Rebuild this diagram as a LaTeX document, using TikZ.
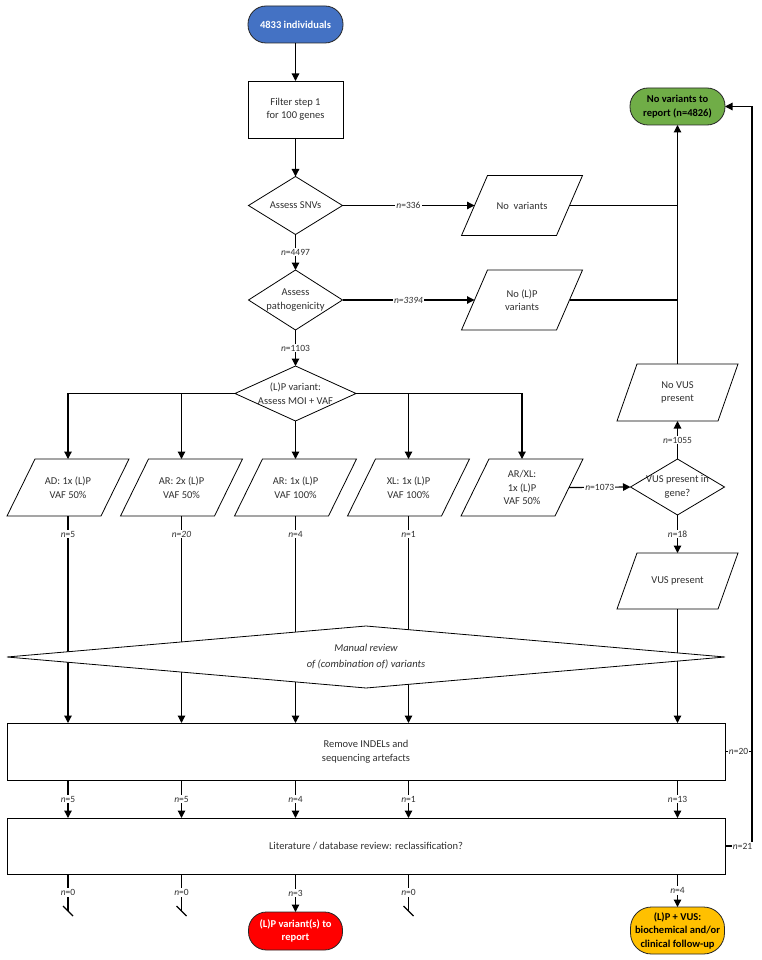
\documentclass[tikz,border=0pt]{standalone}
\usepackage{fontspec}
\setmainfont{Carlito}
\usetikzlibrary{arrows.meta,calc}
\definecolor{txt}{HTML}{303030}
\definecolor{cblue}{HTML}{4472C4}
\definecolor{cgreen}{HTML}{70AD47}
\definecolor{cred}{HTML}{FF0000}
\definecolor{cyellow}{HTML}{FFC000}
\newcommand\parashape[2]{\draw[shp] ($(#1.south west)+(-#2,0)$) -- ($(#1.north west)+(#2,0)$) -- ($(#1.north east)+(#2,0)$) -- ($(#1.south east)+(-#2,0)$) -- cycle;}
\newcommand\diamshape[1]{\draw[shp] (#1.west) -- (#1.north) -- (#1.east) -- (#1.south) -- cycle;}
\begin{document}
\begin{tikzpicture}[x=1pt,y=-1pt,
 base/.style={font=\fontsize{10.5}{13.5}\selectfont, text=txt, align=center, inner sep=0pt, outer sep=0pt},
 rectbox/.style={base, draw=black, line width=0.8pt, fill=white},
 ghost/.style={base},
 term/.style={base, draw=black!85, line width=0.8pt, font=\fontsize{10.5}{13.5}\selectfont\bfseries, minimum width=95pt},
 shp/.style={draw=black, line width=0.8pt},
 conn/.style={draw=black, line width=1.2pt},
 arr/.style={conn, -{Triangle[length=7.5pt,width=7.5pt]}},
 lbl/.style={font=\fontsize{9.5}{10}\selectfont, text=txt, fill=white, inner sep=1pt},
]
\useasboundingbox (0,0) rectangle (761,960);

% terminals and boxes
\node[term, fill=cblue, text=white, minimum height=37pt, rounded corners=18pt] (start) at (295.5,24.5) {4833 individuals};
\node[rectbox, minimum width=95pt, minimum height=57pt] (filter) at (295.5,109.5) {Filter step 1\\for 100 genes};
\node[term, fill=cgreen, text=black, minimum height=37pt, rounded corners=18pt] (green) at (677.5,106.5) {No variants to\\report (n=4826)};

% diamonds
\node[ghost, minimum width=94pt, minimum height=58pt] (snv) at (295.5,205.5) {Assess SNVs};
\diamshape{snv}
\node[ghost, minimum width=94pt, minimum height=60pt] (path) at (295.5,300) {Assess\\pathogenicity};
\diamshape{path}
\node[ghost, minimum width=121pt, minimum height=55pt] (lp) at (295.5,393.5) {(L)P variant:\\Assess MOI + VAF};
\diamshape{lp}
\node[ghost, minimum width=94pt, minimum height=56pt] (vus) at (677.5,487) {VUS present in\\gene?};
\diamshape{vus}

% parallelograms
\node[ghost, minimum width=95pt, minimum height=60pt] (novar) at (522,205.5) {No~~variants};
\parashape{novar}{13}
\node[ghost, minimum width=95pt, minimum height=60pt] (nolp) at (522,300) {No (L)P\\variants};
\parashape{nolp}{13}
\node[ghost, minimum width=94pt, minimum height=57pt] (ad) at (68,487.5) {AD: 1x (L)P\\VAF 50\%};
\parashape{ad}{14}
\node[ghost, minimum width=94pt, minimum height=57pt] (ar2) at (181.5,487.5) {AR: 2x (L)P\\VAF 50\%};
\parashape{ar2}{14}
\node[ghost, minimum width=94pt, minimum height=57pt] (ar1) at (295.5,487.5) {AR: 1x (L)P\\VAF 100\%};
\parashape{ar1}{14}
\node[ghost, minimum width=94pt, minimum height=57pt] (xl) at (408.5,487.5) {XL: 1x (L)P\\VAF 100\%};
\parashape{xl}{14}
\node[ghost, minimum width=94pt, minimum height=57pt] (arxl) at (522,487.5) {AR/XL:\\1x (L)P\\VAF 50\%};
\parashape{arxl}{14}
\node[ghost, minimum width=101pt, minimum height=57pt] (novus) at (677.5,392.5) {No VUS\\present};
\parashape{novus}{10}
\node[ghost, minimum width=101pt, minimum height=56pt] (vuspres) at (677.5,581) {VUS present};
\parashape{vuspres}{10}

% lower boxes
\node[rectbox, minimum width=718pt, minimum height=57pt] (remove) at (366,751.5) {Remove INDELs and\\sequencing artefacts};
\node[rectbox, minimum width=718pt, minimum height=56pt] (lit) at (366,846) {Literature / database review: reclassification?};
\node[term, fill=cred, text=white, minimum width=94pt, minimum height=38pt, rounded corners=18pt] (red) at (295.5,931) {(L)P variant(s) to\\report};
\node[term, fill=cyellow, text=black, minimum width=94pt, minimum height=47pt, rounded corners=21pt] (yellow) at (677.5,930.5) {(L)P + VUS:\\biochemical and/or\\clinical follow-up};

% main column connectors
\draw[arr] (start.south) -- (filter.north);
\draw[arr] (filter.south) -- (snv.north);
\draw[arr] (snv.east) -- node[lbl]{\textit{n}=336} (novar.west);
\draw[arr] (snv.south) -- node[lbl]{\textit{n}=4497} (path.north);
\draw[arr] (path.east) -- node[lbl]{\textit{n=3394}} (nolp.west);
\draw[arr] (path.south) -- node[lbl]{\textit{n}=1103} (lp.north);
\draw[arr] (lp.west) -| (ad.north);
\draw[arr] (lp.west) -| (ar2.north);
\draw[arr] (lp.south) -- (ar1.north);
\draw[arr] (lp.east) -| (xl.north);
\draw[arr] (lp.east) -| (arxl.north);
\draw[arr] (arxl.east) -- node[lbl]{\textit{n}=1073} (vus.west);
\draw[arr] (vus.north) -- node[lbl]{\textit{n}=1055} (novus.south);
\draw[arr] (vus.south) -- node[lbl]{\textit{n}=18} (vuspres.north);
\draw[arr] (novus.north) -- (green.south);
\draw[conn] (novar.east) -- (novar.east -| green.south);
\draw[conn] (nolp.east) -- (nolp.east -| green.south);

% columns down to Remove box
\draw[arr] (ad.south) -- node[lbl,pos=.087]{\textit{n}=5} (ad.south |- remove.north);
\draw[arr] (ar2.south) -- node[lbl,pos=.087]{\textit{n=20}} (ar2.south |- remove.north);
\draw[arr] (ar1.south) -- node[lbl,pos=.087]{\textit{n}=4} (ar1.south |- remove.north);
\draw[arr] (xl.south) -- node[lbl,pos=.087]{\textit{n}=1} (xl.south |- remove.north);
\draw[arr] (vuspres.south) -- (vuspres.south |- remove.north);

% manual review diamond on top of the column lines
\node[ghost, minimum width=718pt, minimum height=62pt] (manual) at (366,657) {};
\draw[shp, fill=white] (manual.west) -- (manual.north) -- (manual.east) -- (manual.south) -- cycle;
\node[base, font=\fontsize{10.5}{16}\selectfont\itshape] (manualtxt) at (manual.center) {Manual review\\of (combination of) variants};

% Remove -> Literature
\draw[arr] (ad.south |- remove.south) -- node[lbl]{\textit{n}=5} (ad.south |- lit.north);
\draw[arr] (ar2.south |- remove.south) -- node[lbl]{\textit{n}=5} (ar2.south |- lit.north);
\draw[arr] (ar1.south |- remove.south) -- node[lbl]{\textit{n}=4} (ar1.south |- lit.north);
\draw[arr] (xl.south |- remove.south) -- node[lbl]{\textit{n}=1} (xl.south |- lit.north);
\draw[arr] (vuspres.south |- remove.south) -- node[lbl]{\textit{n}=13} (vuspres.south |- lit.north);

% Literature -> outcomes
\coordinate (s1) at ($(ad.south |- lit.south)+(0,37)$);
\coordinate (s2) at ($(ar2.south |- lit.south)+(0,37)$);
\coordinate (s3) at ($(xl.south |- lit.south)+(0,37)$);
\draw[conn] (ad.south |- lit.south) -- node[lbl]{\textit{n}=0} (s1);
\draw[conn] ($(s1)+(-5,-5)$) -- ($(s1)+(5,5)$);
\draw[conn] (ar2.south |- lit.south) -- node[lbl]{\textit{n}=0} (s2);
\draw[conn] ($(s2)+(-5,-5)$) -- ($(s2)+(5,5)$);
\draw[conn] (xl.south |- lit.south) -- node[lbl]{\textit{n}=0} (s3);
\draw[conn] ($(s3)+(-5,-5)$) -- ($(s3)+(5,5)$);
\draw[arr] (ar1.south |- lit.south) -- node[lbl]{\textit{n}=3} (red.north);
\draw[arr] (vuspres.south |- lit.south) -- node[lbl]{\textit{n}=4} (yellow.north);

% right-hand return line
\coordinate (rt) at (752,846);
\draw[conn] (remove.east) -- node[lbl]{\textit{n}=20} (remove.east -| rt);
\draw[arr] (lit.east) -- node[lbl,pos=.65]{\textit{n}=21} (rt) |- (green.east);
\end{tikzpicture}
\end{document}
